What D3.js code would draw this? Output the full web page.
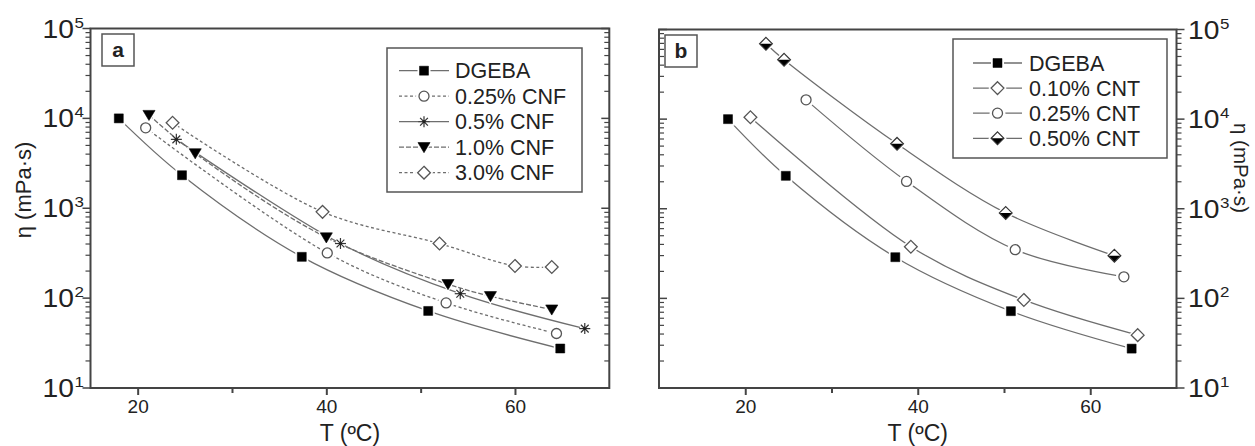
<!DOCTYPE html>
<html>
<head>
<meta charset="utf-8">
<script src="https://cdn.jsdelivr.net/npm/d3@7"></script>
<style>
  html, body { margin: 0; padding: 0; background: #fff; }
  svg { display: block; font-family: "Liberation Sans", Arial, sans-serif; }
</style>
</head>
<body>
<svg id="chart" width="1255" height="446"></svg>
<script>
// ---------------- DATA ----------------
// Panel a (CNF)
const T_DGEBA = [18, 24.7, 37.4, 50.8, 64.8];
const V_DGEBA = [10000, 2330, 288, 72, 27.5];
const T_CNF025 = [20.85, 40.1, 52.7, 64.4];
const V_CNF025 = [7850, 318, 88.5, 40.4];
const T_CNF05 = [24.1, 41.5, 54.2, 67.4];
const V_CNF05 = [5840, 405, 112, 45.8];
const T_CNF10 = [21.2, 26.1, 40.0, 52.9, 57.4, 63.9];
const V_CNF10 = [10900, 4080, 473, 143, 105, 74.6];
const T_CNF30 = [23.7, 39.6, 52.0, 60.0, 63.9];
const V_CNF30 = [8940, 912, 405, 228, 222];
// Panel b (CNT)
const T_CNT010 = [20.6, 39.2, 52.3, 65.5];
const V_CNT010 = [10500, 377, 96, 38.9];
const T_CNT025 = [27.05, 38.7, 51.3, 63.9];
const V_CNT025 = [16400, 2020, 349, 174];
const T_CNT050 = [22.4, 24.5, 37.6, 50.2, 62.8];
const V_CNT050 = [69300, 46000, 5300, 898, 299];

const seriesNamesA = ["DGEBA", "0.25% CNF", "0.5% CNF", "1.0% CNF", "3.0% CNF"];
const seriesNamesB = ["DGEBA", "0.10% CNT", "0.25% CNT", "0.50% CNT"];
const xTicks = [20, 30, 40, 50, 60];
const xTickLabels = ["20", "", "40", "", "60"];
const yMajorExps = [1, 2, 3, 4, 5];
const xTitle = "T (ºC)";
const yTitle = "η (mPa·s)";

// ---------------- STYLE ----------------
const AXIS = "#444";
const CURVE = "#6e6e6e";
const TEXT = "#222";

const svg = d3.select("#chart");

function zip(T, V) { return T.map((t, i) => ({ t, v: V[i] })); }

function markerPath(type, s) {
  const p = d3.path();
  if (type === "square") { p.rect(-s / 2, -s / 2, s, s); }
  else if (type === "diamond" || type === "halfdiamond") {
    const w = s * 0.58, h = s * 0.58;
    p.moveTo(0, -h); p.lineTo(w, 0); p.lineTo(0, h); p.lineTo(-w, 0); p.closePath();
  } else if (type === "triangle") {
    const w = s * 0.55;
    p.moveTo(-w, -s * 0.42); p.lineTo(w, -s * 0.42); p.lineTo(0, s * 0.5); p.closePath();
  }
  return p.toString();
}

function drawMarker(g, type, x, y) {
  const m = g.append("g").attr("transform", `translate(${x},${y})`);
  if (type === "circle") {
    m.append("circle").attr("r", 6.5).attr("fill", "#fff").attr("stroke", "#fff").attr("stroke-width", 3);
    m.append("circle").attr("r", 5).attr("fill", "#fff").attr("stroke", "#555").attr("stroke-width", 1.3);
  } else if (type === "square") {
    m.append("path").attr("d", markerPath("square", 9)).attr("fill", "#fff").attr("stroke", "#fff").attr("stroke-width", 4);
    m.append("path").attr("d", markerPath("square", 9)).attr("fill", "#000").attr("stroke", "#000").attr("stroke-width", 0.5);
  } else if (type === "diamond") {
    m.append("path").attr("d", markerPath("diamond", 11)).attr("fill", "#fff").attr("stroke", "#fff").attr("stroke-width", 4);
    m.append("path").attr("d", markerPath("diamond", 11)).attr("fill", "#fff").attr("stroke", "#555").attr("stroke-width", 1.3);
  } else if (type === "halfdiamond") {
    const w = 11 * 0.58;
    m.append("path").attr("d", markerPath("diamond", 11)).attr("fill", "#fff").attr("stroke", "#fff").attr("stroke-width", 4);
    m.append("path").attr("d", `M${-w},0L${w},0L0,${w}Z`).attr("fill", "#000");
    m.append("path").attr("d", markerPath("diamond", 11)).attr("fill", "none").attr("stroke", "#333").attr("stroke-width", 1.2);
  } else if (type === "triangle") {
    m.append("path").attr("d", markerPath("triangle", 11)).attr("fill", "#fff").attr("stroke", "#fff").attr("stroke-width", 3);
    m.append("path").attr("d", markerPath("triangle", 11)).attr("fill", "#000").attr("stroke", "#000").attr("stroke-width", 0.6);
  } else if (type === "star") {
    const r = 5.5;
    m.append("circle").attr("r", 5).attr("fill", "#fff");
    [0, 45, 90, 135].forEach(deg => {
      const rad = deg * Math.PI / 180;
      m.append("line")
        .attr("x1", -r * Math.cos(rad)).attr("y1", -r * Math.sin(rad))
        .attr("x2", r * Math.cos(rad)).attr("y2", r * Math.sin(rad))
        .attr("stroke", "#333").attr("stroke-width", 1.2);
    });
    m.append("circle").attr("r", 1.6).attr("fill", "#222");
  }
}

function supLabel(g, x, y, exp, anchor) {
  const t = g.append("text")
    .attr("transform", `translate(${x},${y}) scale(1.13,1)`)
    .attr("text-anchor", anchor).attr("fill", TEXT);
  t.append("tspan").attr("font-size", 25).text("10");
  t.append("tspan").attr("font-size", 15).attr("dy", -10).attr("dx", 0.5).text(exp);
}

function panel(cfg) {
  const g = svg.append("g");
  const x = d3.scaleLinear().domain(cfg.xDomain).range([cfg.left, cfg.right]);
  const y = d3.scaleLog().domain([10, 1e5]).range([cfg.bottom, cfg.top]);

  const line = d3.line().x(d => x(d.t)).y(d => y(d.v)).curve(d3.curveCatmullRom.alpha(0.5));
  cfg.series.forEach(s => {
    g.append("path").datum(zip(s.T, s.V))
      .attr("d", line).attr("fill", "none")
      .attr("stroke", CURVE).attr("stroke-width", 1.3)
      .attr("stroke-dasharray", s.dash || null);
  });
  cfg.series.forEach(s => {
    zip(s.T, s.V).forEach(d => drawMarker(g, s.marker, x(d.t), y(d.v)));
  });

  g.append("rect").attr("x", cfg.left).attr("y", cfg.top)
    .attr("width", cfg.right - cfg.left).attr("height", cfg.bottom - cfg.top)
    .attr("fill", "none").attr("stroke", AXIS).attr("stroke-width", 2);

  const xa = g.append("g").attr("transform", `translate(0,${cfg.bottom})`)
    .call(d3.axisBottom(x).tickValues(xTicks).tickSize(7).tickPadding(5)
      .tickFormat((d, i) => xTickLabels[i]));
  xa.select(".domain").remove();
  xa.selectAll(".tick line").attr("stroke", AXIS).attr("stroke-width", 2)
    .attr("y2", (d, i) => xTickLabels[i] ? 7 : 5);
  xa.selectAll(".tick text").attr("font-size", 19).attr("fill", TEXT)
    .attr("font-family", "Liberation Sans, Arial, sans-serif");

  const minor = [];
  for (let e = 1; e < 5; e++) for (let k = 2; k <= 9; k++) minor.push(k * Math.pow(10, e));
  const majors = yMajorExps.map(e => Math.pow(10, e));
  function yTicks(xPos, dir) {
    majors.forEach(v => g.append("line").attr("x1", xPos).attr("x2", xPos + dir * 8)
      .attr("y1", y(v)).attr("y2", y(v)).attr("stroke", AXIS).attr("stroke-width", 1.5));
    minor.forEach(v => g.append("line").attr("x1", xPos).attr("x2", xPos + dir * 5)
      .attr("y1", y(v)).attr("y2", y(v)).attr("stroke", AXIS).attr("stroke-width", 1.2));
  }
  yTicks(cfg.left, cfg.leftDir);
  yTicks(cfg.right, cfg.rightDir);

  yMajorExps.forEach(e => supLabel(g, cfg.yLabelX, y(Math.pow(10, e)) + 9, e, cfg.yLabelAnchor));

  g.append("text").attr("x", (cfg.left + cfg.right) / 2).attr("y", 441)
    .attr("text-anchor", "middle").attr("font-size", 23).attr("fill", TEXT).text(xTitle);
  g.append("text").attr("transform", `translate(${cfg.yTitleX},${cfg.yTitleY}) rotate(${cfg.yTitleRot})`)
    .attr("text-anchor", "middle").attr("font-size", cfg.yTitleSize).attr("fill", TEXT).text(yTitle);

  g.append("rect").attr("x", cfg.lab[0]).attr("y", cfg.lab[1]).attr("width", 32).attr("height", 32)
    .attr("fill", "#fff").attr("stroke", "#555").attr("stroke-width", 1.5);
  g.append("text").attr("x", cfg.lab[0] + 16).attr("y", cfg.lab[1] + 23)
    .attr("text-anchor", "middle").attr("font-size", 21).attr("font-weight", "bold")
    .attr("fill", TEXT).text(cfg.labText);

  const L = cfg.legend;
  g.append("rect").attr("x", L.x0).attr("y", L.y0).attr("width", L.x1 - L.x0).attr("height", L.y1 - L.y0)
    .attr("fill", "#fff").attr("stroke", "#555").attr("stroke-width", 1.5);
  cfg.series.forEach((s, i) => {
    const yy = L.rowY + i * L.rowDy;
    g.append("line").attr("x1", L.lx0).attr("x2", L.lx1).attr("y1", yy).attr("y2", yy)
      .attr("stroke", CURVE).attr("stroke-width", 1.3).attr("stroke-dasharray", s.dash || null);
    drawMarker(g, s.marker, (L.lx0 + L.lx1) / 2, yy);
    g.append("text").attr("x", L.tx).attr("y", yy + 7.5).attr("font-size", 21.5)
      .attr("fill", TEXT).text(cfg.names[i]);
  });
}

panel({
  xDomain: [15, 70], left: 90.5, right: 609.3, top: 28.5, bottom: 388,
  leftDir: -1, rightDir: -1, yLabelX: 84, yLabelAnchor: "end",
  yTitleX: 31, yTitleY: 190, yTitleRot: -90, yTitleSize: 22,
  lab: [102, 34], labText: "a",
  names: seriesNamesA,
  legend: { x0: 387, y0: 48, x1: 582, y1: 192, rowY: 70.7, rowDy: 25.5, lx0: 399, lx1: 449, tx: 455 },
  series: [
    { T: T_DGEBA, V: V_DGEBA, marker: "square" },
    { T: T_CNF025, V: V_CNF025, marker: "circle", dash: "3,2.5" },
    { T: T_CNF05, V: V_CNF05, marker: "star" },
    { T: T_CNF10, V: V_CNF10, marker: "triangle", dash: "5,2" },
    { T: T_CNF30, V: V_CNF30, marker: "diamond", dash: "3,2.5" }
  ]
});

panel({
  xDomain: [10, 70], left: 659, right: 1176.5, top: 29.5, bottom: 388,
  leftDir: 1, rightDir: 1, yLabelX: 1188, yLabelAnchor: "start",
  yTitleX: 1234, yTitleY: 168, yTitleRot: 90, yTitleSize: 20.5,
  lab: [665, 35], labText: "b",
  names: seriesNamesB,
  legend: { x0: 953, y0: 39, x1: 1167, y1: 158, rowY: 63, rowDy: 25.1, lx0: 973, lx1: 1022, tx: 1029 },
  series: [
    { T: T_DGEBA, V: V_DGEBA, marker: "square" },
    { T: T_CNT010, V: V_CNT010, marker: "diamond" },
    { T: T_CNT025, V: V_CNT025, marker: "circle" },
    { T: T_CNT050, V: V_CNT050, marker: "halfdiamond" }
  ]
});
</script>
</body>
</html>
